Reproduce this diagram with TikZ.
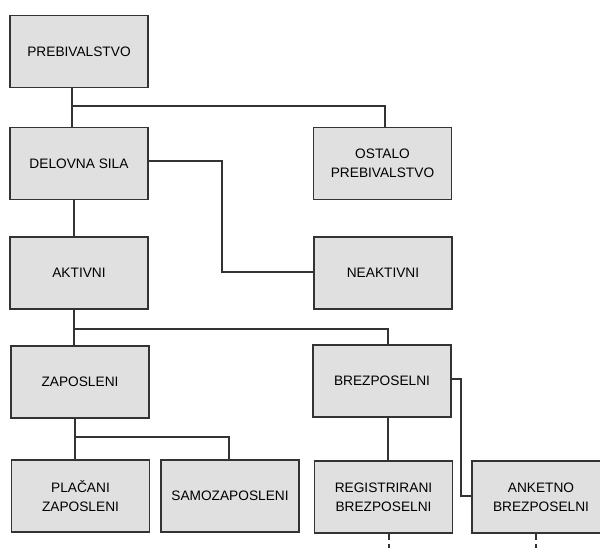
\documentclass[tikz,border=0pt]{standalone}
\usepackage{fontspec}
\setmainfont{Liberation Sans}

\begin{document}
\begin{tikzpicture}[x=0.02cm,y=-0.02cm,
    box/.style={draw=black!80,fill=black!12,line width=0.75pt,
        minimum width=138*0.02cm,minimum height=72*0.02cm,
        align=center,inner sep=0pt,
        font=\fontsize{7.8}{10.8}\selectfont},
    link/.style={draw=black!80,line width=0.7pt},
    more/.style={link,dash pattern=on 3.5pt off 2.5pt}]
    \useasboundingbox[fill=white] (0,0) rectangle (600,548);

    \node[box] (preb)  at (79,51.5)   {PREBIVALSTVO};
    \node[box] (dsila) at (79,163.5)  {DELOVNA SILA};
    \node[box] (ostalo) at (382.5,163.5) {OSTALO\\PREBIVALSTVO};
    \node[box] (aktiv) at (79,273)    {AKTIVNI};
    \node[box] (neakt) at (383,273)   {NEAKTIVNI};
    \node[box] (zap)   at (80,382)    {ZAPOSLENI};
    \node[box] (brez)  at (382,381)   {BREZPOSELNI};
    \node[box] (plac)  at (80.5,496)  {PLAČANI\\ZAPOSLENI};
    \node[box] (samo)  at (230,496)   {SAMOZAPOSLENI};
    \node[box] (reg)   at (383.5,497) {REGISTRIRANI\\BREZPOSELNI};
    \node[box] (anket) at (541,497)   {ANKETNO\\BREZPOSELNI};

    \draw[link] (preb.south -| 72,0) -- (dsila.north -| 72,0);
    \draw[link] (72,106) -| (ostalo.north -| 385,0);
    \draw[link] (dsila.east |- 0,161) -| (222,272) -- (neakt.west |- 0,272);
    \draw[link] (dsila.south -| 74,0) -- (aktiv.north -| 74,0);
    \draw[link] (aktiv.south -| 74,0) -- (zap.north -| 74,0);
    \draw[link] (74,329) -| (brez.north -| 388,0);
    \draw[link] (zap.south -| 75,0) -- (plac.north -| 75,0);
    \draw[link] (75,437) -| (samo.north -| 229,0);
    \draw[link] (brez.south -| 388,0) -- (reg.north -| 388,0);
    \draw[link] (brez.east |- 0,379) -| (461,496) -- (anket.west |- 0,496);

    \coordinate (regend) at (389,548);
    \coordinate (anketend) at (536,548);
    \draw[more] (reg.south -| regend) -- (regend);
    \draw[more] (anket.south -| anketend) -- (anketend);

\end{tikzpicture}
\end{document}
